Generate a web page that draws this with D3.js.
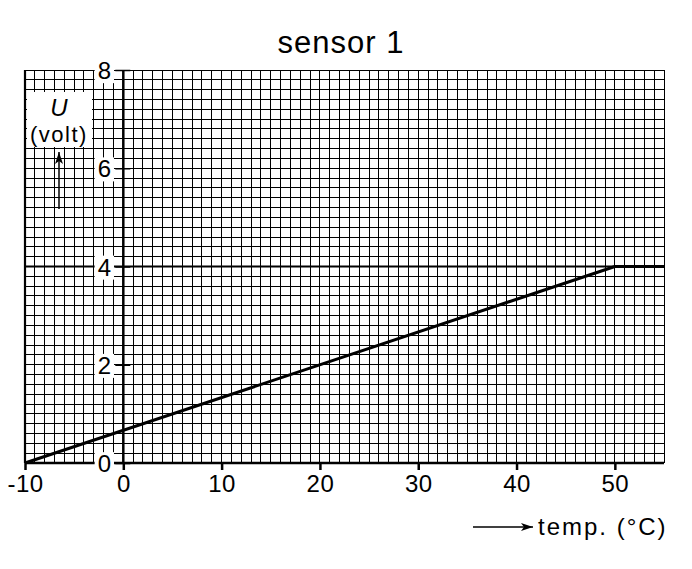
<!DOCTYPE html>
<html>
<head>
<meta charset="utf-8">
<script src="https://cdn.jsdelivr.net/npm/d3@7"></script>
<style>
  body { margin: 0; background: #fff; }
  text { font-family: "Liberation Sans", Arial, sans-serif; fill: #000; }
</style>
</head>
<body>
<svg id="vis1" width="692" height="569"></svg>
<script>
// sensor 1: voltage against temperature
var temps = [-10, 50, 55];
var volts = [0, 4, 4];
var xTickLabels = [-10, 0, 10, 20, 30, 40, 50];
var yTickLabels = [0, 2, 4, 6, 8];
var xDomain = [-10, 55];
var yDomain = [0, 8];

var svg = d3.select("#vis1");

var margin = { top: 70, left: 25, right: 28, bottom: 106 };
var plotWidth = 692 - margin.left - margin.right;   // 639
var plotHeight = 569 - margin.top - margin.bottom;  // 393

var xScale = d3.scaleLinear().domain(xDomain).range([0, plotWidth]);
var yScale = d3.scaleLinear().domain(yDomain).range([plotHeight, 0]);

var plot = svg.append("g").attr("id", "plot")
  .attr("transform", "translate(" + margin.left + "," + margin.top + ")");

// graph paper: 1 degree by 0.2 volt
var grid = plot.append("g").attr("id", "grid")
  .attr("stroke", "#000").attr("stroke-width", 1)
  .attr("shape-rendering", "crispEdges");
grid.selectAll("line.gx")
  .data(xScale.ticks(65))
  .enter().append("line")
  .attr("class", "gx")
  .attr("x1", function(d) { return xScale(d); })
  .attr("x2", function(d) { return xScale(d); })
  .attr("y1", 0)
  .attr("y2", plotHeight);
grid.selectAll("line.gy")
  .data(yScale.ticks(40))
  .enter().append("line")
  .attr("class", "gy")
  .attr("x1", 0)
  .attr("x2", plotWidth)
  .attr("y1", function(d) { return yScale(d); })
  .attr("y2", function(d) { return yScale(d); });

// heavier reference line at 4 volt
plot.append("line")
  .attr("x1", 0).attr("x2", plotWidth)
  .attr("y1", yScale(4)).attr("y2", yScale(4))
  .attr("stroke", "#000").attr("stroke-width", 2.2);

// left border
plot.append("line")
  .attr("x1", 0).attr("x2", 0)
  .attr("y1", 0).attr("y2", plotHeight)
  .attr("stroke", "#000").attr("stroke-width", 2.2);

// data line
var line = d3.line()
  .x(function(d, i) { return xScale(temps[i]); })
  .y(function(d, i) { return yScale(volts[i]); });
plot.append("path")
  .datum(temps)
  .attr("d", line)
  .attr("fill", "none")
  .attr("stroke", "#000")
  .attr("stroke-width", 3)
  .attr("stroke-linejoin", "round");

// x axis
var xAxis = d3.axisBottom(xScale).tickValues(xTickLabels).tickSize(7).tickPadding(5).tickFormat(d3.format("d"));
var xGroup = plot.append("g").attr("id", "x-axis")
  .attr("transform", "translate(0," + plotHeight + ")")
  .call(xAxis);
xGroup.select(".domain").attr("stroke-width", 2.5).attr("d", "M0,0H" + plotWidth);
xGroup.selectAll(".tick line").attr("stroke-width", 2.5);
xGroup.selectAll(".tick text")
  .style("font-size", "24px")
  .style("font-family", "Liberation Sans, Arial, sans-serif")
  .style("letter-spacing", "0.5px")
  .text(function(d) { return d < 0 ? "-" + Math.abs(d) : d; });

// y axis at 0 degrees
var yAxis = d3.axisLeft(yScale).tickValues(yTickLabels).tickSize(0).tickPadding(0).tickFormat(d3.format("d"));
var yGroup = plot.append("g").attr("id", "y-axis")
  .attr("transform", "translate(" + xScale(0) + ",0)")
  .call(yAxis);
yGroup.select(".domain").attr("stroke-width", 2.5).attr("d", "M0,0V" + plotHeight);
yGroup.selectAll(".tick").append("line")
  .attr("x1", -8).attr("x2", 7)
  .attr("stroke", "#000").attr("stroke-width", 1.5);
yGroup.selectAll(".tick").select("line").filter(function(d) { return d === 0 || d === 4; }).remove();
yGroup.selectAll(".tick text")
  .attr("x", -19)
  .attr("dy", "0.36em")
  .attr("text-anchor", "middle")
  .style("font-size", "24px")
  .style("font-family", "Liberation Sans, Arial, sans-serif");
// white knock-out behind y labels
yGroup.selectAll(".tick").each(function() {
  var t = d3.select(this).select("text");
  var b = t.node().getBBox();
  d3.select(this).insert("rect", "text")
    .attr("x", b.x - 3).attr("y", b.y + 2)
    .attr("width", b.width + 6).attr("height", b.height - 3)
    .attr("fill", "#fff");
});

// y label
var yLab = svg.append("g").attr("id", "y-label");
yLab.append("rect")
  .attr("x", 27).attr("y", 92).attr("width", 65).attr("height", 55)
  .attr("fill", "#fff");
yLab.append("text")
  .attr("x", 59).attr("y", 116)
  .attr("text-anchor", "middle")
  .style("font-size", "24px").style("font-style", "italic")
  .text("U");
yLab.append("text")
  .attr("x", 59).attr("y", 142)
  .attr("text-anchor", "middle")
  .style("font-size", "22px")
  .style("letter-spacing", "1.5px")
  .text("(volt)");

var defs = svg.append("defs");
defs.append("marker")
  .attr("id", "arrow")
  .attr("viewBox", "0 0 12 8")
  .attr("refX", 12).attr("refY", 4)
  .attr("markerWidth", 12).attr("markerHeight", 8)
  .attr("markerUnits", "userSpaceOnUse")
  .attr("orient", "auto")
  .append("path")
  .attr("d", "M0,0 L12,4 L0,8 L3,4 Z")
  .attr("fill", "#000");

svg.append("line")
  .attr("x1", 59).attr("x2", 59)
  .attr("y1", 209).attr("y2", 152)
  .attr("stroke", "#000").attr("stroke-width", 1.5)
  .attr("marker-end", "url(#arrow)");

// x label
svg.append("line")
  .attr("x1", 473).attr("x2", 533)
  .attr("y1", 527).attr("y2", 527)
  .attr("stroke", "#000").attr("stroke-width", 1.5)
  .attr("marker-end", "url(#arrow)");
svg.append("text")
  .attr("x", 538).attr("y", 535)
  .style("font-size", "24px")
  .style("letter-spacing", "2px")
  .text("temp. (\u00B0C)");

// title
svg.append("text")
  .attr("x", 341).attr("y", 53)
  .attr("text-anchor", "middle")
  .style("font-size", "31px")
  .style("letter-spacing", "1px")
  .text("sensor 1");
</script>
</body>
</html>
